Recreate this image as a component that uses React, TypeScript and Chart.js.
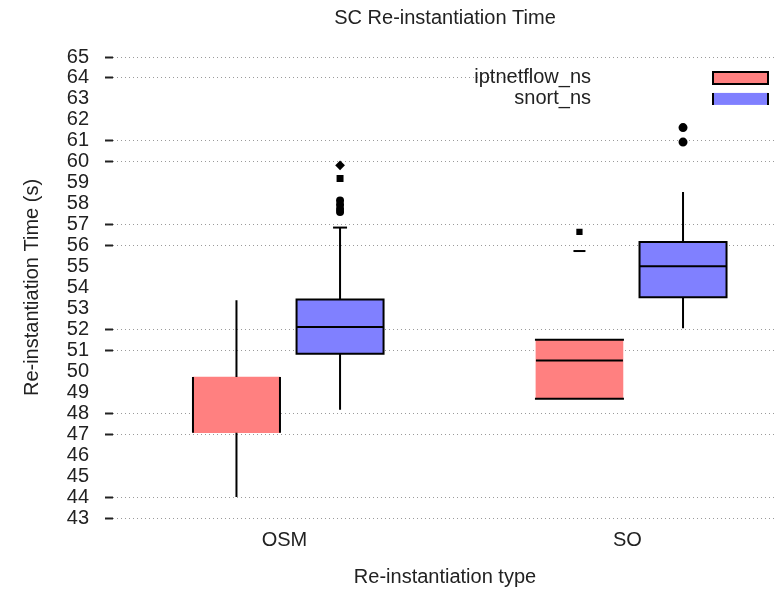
import React, { useEffect, useRef } from 'react';
import { Chart, registerables } from 'chart.js';

Chart.register(...registerables);

// ---------- data ----------
const categories = ['OSM', 'SO'];
const categoryPositions = [1, 2];
const seriesNames = ['iptnetflow_ns', 'snort_ns'];

const iptLow = [44.0, 48.69];
const iptQ1 = [47.07, 48.69];
const iptMedian = [47.07, 50.52];
const iptQ3 = [49.73, 51.51];
const iptHigh = [53.39, 51.51];
const iptOutliers = [[], [56.65, 55.74]];

const snortLow = [48.17, 52.06];
const snortQ1 = [50.84, 53.54];
const snortMedian = [52.11, 55.02];
const snortQ3 = [53.43, 56.17];
const snortHigh = [56.86, 58.56];
const snortOutliers = [[59.83, 59.2, 58.15, 57.95, 57.75, 57.6], [61.63, 60.94]];

const yTickValues = [43, 44, 45, 46, 47, 48, 49, 50, 51, 52, 53, 54, 55, 56, 57, 58, 59, 60, 61, 62, 63, 64, 65];
const yGridValues = [43, 44, 47, 48, 51, 52, 56, 57, 60, 61, 64, 65];

const titleText = 'SC Re-instantiation Time';
const xTitle = 'Re-instantiation type';
const yTitle = 'Re-instantiation Time (s)';

// ---------- style ----------
const FONT = '"Liberation Sans", Arial, sans-serif';
const TEXT = '#222';
const BOX_PX = 87;
const series = [
  {
    name: seriesNames[0], offset: -0.14, fill: '#ff8080',
    low: iptLow, q1: iptQ1, med: iptMedian, q3: iptQ3, high: iptHigh, out: iptOutliers,
    edges: [['l', 'r'], ['t', 'b']], caps: [false, false],
    outStyles: [[], ['rect', 'line']], outRadius: [[], [3, 6]],
    legendEdges: ['l', 'r', 't', 'b'],
  },
  {
    name: seriesNames[1], offset: 0.162, fill: '#8080ff',
    low: snortLow, q1: snortQ1, med: snortMedian, q3: snortQ3, high: snortHigh, out: snortOutliers,
    edges: [['l', 'r', 't', 'b'], ['l', 'r', 't', 'b']], caps: [true, false],
    outStyles: [['rectRot', 'rect', 'circle', 'circle', 'circle', 'circle'], ['circle', 'circle']],
    outRadius: [[3.5, 3.5, 3, 3, 3, 3], [3.5, 3.5]],
    legendEdges: ['l', 'r'],
  },
];

function drawEdges(ctx: CanvasRenderingContext2D, l: number, r: number, t: number, b: number, edges: string[]) {
  ctx.beginPath();
  if (edges.includes('l')) { ctx.moveTo(l, t); ctx.lineTo(l, b); }
  if (edges.includes('r')) { ctx.moveTo(r, t); ctx.lineTo(r, b); }
  if (edges.includes('t')) { ctx.moveTo(l - 1, t); ctx.lineTo(r + 1, t); }
  if (edges.includes('b')) { ctx.moveTo(l - 1, b); ctx.lineTo(r + 1, b); }
  ctx.stroke();
}

const boxPlugin = {
  id: 'boxDetails',
  afterDatasetsDraw(chart: any) {
    const { ctx } = chart;
    const x = chart.scales.x;
    const y = chart.scales.y;
    ctx.save();
    ctx.strokeStyle = '#000';
    ctx.lineWidth = 2;
    series.forEach((s) => {
      categoryPositions.forEach((c, i) => {
        const cx = x.getPixelForValue(c + s.offset);
        const l = cx - BOX_PX / 2;
        const r = cx + BOX_PX / 2;
        const t = y.getPixelForValue(s.q3[i]);
        const b = y.getPixelForValue(s.q1[i]);
        ctx.beginPath();
        if (s.high[i] > s.q3[i]) { ctx.moveTo(cx, t); ctx.lineTo(cx, y.getPixelForValue(s.high[i])); }
        if (s.low[i] < s.q1[i]) { ctx.moveTo(cx, b); ctx.lineTo(cx, y.getPixelForValue(s.low[i])); }
        ctx.stroke();
        if (s.caps[i]) {
          const hy = y.getPixelForValue(s.high[i]);
          ctx.beginPath(); ctx.moveTo(cx - 7, hy); ctx.lineTo(cx + 7, hy); ctx.stroke();
        }
        drawEdges(ctx, l, r, t, b, s.edges[i]);
        if (s.med[i] > s.q1[i] && s.med[i] < s.q3[i]) {
          const my = y.getPixelForValue(s.med[i]);
          ctx.beginPath(); ctx.moveTo(l, my); ctx.lineTo(r, my); ctx.stroke();
        }
      });
    });
    ctx.restore();
  },
  afterDraw(chart: any) {
    const { ctx, chartArea } = chart;
    const y = chart.scales.y;
    ctx.save();
    ctx.fillStyle = TEXT;
    ctx.font = `20px ${FONT}`;
    ctx.textAlign = 'center';
    ctx.textBaseline = 'middle';
    ctx.fillText(titleText, (chartArea.left + chartArea.right) / 2, 18);
    const right = chartArea.right;
    const row0 = y.getPixelForValue(64);
    const rowH = y.getPixelForValue(63) - row0;
    ctx.fillStyle = '#fff';
    ctx.fillRect(right - 247, row0 - 10, 247, rowH * 2);
    series.forEach((s, k) => {
      const ry = row0 + rowH * k;
      ctx.fillStyle = TEXT;
      ctx.textAlign = 'right';
      ctx.fillText(s.name, right - 186, ry);
      const l = right - 64, r = right - 9, t = ry - 6, b = ry + 6;
      ctx.fillStyle = s.fill;
      ctx.fillRect(l, t, r - l, b - t);
      ctx.strokeStyle = '#000';
      ctx.lineWidth = 2;
      drawEdges(ctx, l, r, t, b, s.legendEdges);
    });
    ctx.restore();
  },
};

export default function App() {
  const canvasRef = useRef<HTMLCanvasElement | null>(null);

  useEffect(() => {
    if (!canvasRef.current) return;
    Chart.defaults.font.family = FONT;
    Chart.defaults.font.size = 20;
    Chart.defaults.color = TEXT;

    const datasets: any[] = [];
    series.forEach((s) => {
      datasets.push({
        type: 'bar',
        label: s.name,
        data: categoryPositions.map((c, i) => ({ x: c + s.offset, y: [s.q1[i], s.q3[i]] })),
        backgroundColor: s.fill,
        borderWidth: 0,
        barThickness: BOX_PX,
        stack: 'box',
      });
    });
    series.forEach((s) => {
      const pts: any[] = [];
      const styles: string[] = [];
      const radii: number[] = [];
      categoryPositions.forEach((c, i) => {
        s.out[i].forEach((v, j) => {
          pts.push({ x: c + s.offset, y: v });
          styles.push(s.outStyles[i][j]);
          radii.push(s.outRadius[i][j]);
        });
      });
      datasets.push({
        type: 'scatter',
        label: s.name + ' outliers',
        data: pts,
        pointStyle: styles,
        pointRadius: radii,
        backgroundColor: '#000',
        borderColor: '#000',
        borderWidth: 2,
      });
    });

    const chart = new Chart(canvasRef.current, {
      type: 'bar',
      data: { datasets },
      plugins: [boxPlugin],
      options: {
        responsive: false,
        animation: false,
        events: [],
        devicePixelRatio: 1,
        layout: { autoPadding: false, padding: { top: 57, left: 0, right: 0, bottom: 0 } },
        plugins: { legend: { display: false }, title: { display: false }, tooltip: { enabled: false } },
        scales: {
          x: {
            type: 'linear',
            min: 0.5,
            max: 2.436,
            offset: false,
            bounds: 'data',
            grid: { display: false, drawTicks: false, offset: false },
            border: { display: false },
            ticks: {
              padding: 10,
              color: TEXT,
              font: { size: 20 },
              callback: (v: any) => {
                const idx = categoryPositions.indexOf(Number(v));
                return idx >= 0 ? categories[idx] : '';
              },
            },
            afterBuildTicks: (scale: any) => {
              scale.ticks = categoryPositions.map((v) => ({ value: v }));
            },
            afterFit: (scale: any) => {
              scale.height = 73;
              scale.paddingLeft = 0;
              scale.paddingRight = 0;
            },
            title: { display: true, text: xTitle, color: TEXT, font: { size: 20 }, padding: { top: 0, bottom: 2 } },
          },
          y: {
            type: 'linear',
            min: 43,
            max: 65,
            stacked: false,
            grid: {
              color: (ctx: any) => (yGridValues.includes(ctx.tick?.value) ? '#9a9a9a' : 'rgba(0,0,0,0)'),
              tickColor: (ctx: any) => (yGridValues.includes(ctx.tick?.value) ? '#222' : 'rgba(0,0,0,0)'),
              lineWidth: 1,
              tickWidth: 2,
              tickLength: 8,
              tickBorderDash: [],
            },
            border: { display: false, dash: [1, 3] },
            ticks: { autoSkip: false, padding: 16, color: TEXT, font: { size: 20 } },
            afterBuildTicks: (scale: any) => {
              scale.ticks = yTickValues.map((v) => ({ value: v }));
            },
            afterFit: (scale: any) => { scale.width = 113; },
            title: { display: true, text: yTitle, color: TEXT, font: { size: 20 }, padding: { top: 20, bottom: 0 } },
          },
        },
      } as any,
    });
    return () => chart.destroy();
  }, []);

  return (
    <div style={{ position: 'absolute', left: 0, top: 0, width: 777, height: 591, background: '#fff' }}>
      <canvas ref={canvasRef} width={777} height={591} />
    </div>
  );
}
